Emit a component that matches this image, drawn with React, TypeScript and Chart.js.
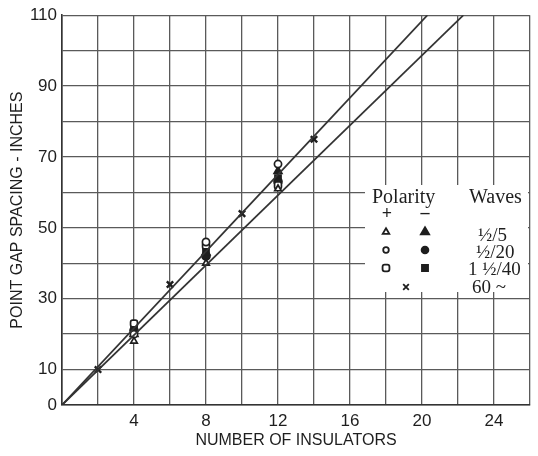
import React, { useEffect, useRef } from 'react';
import { Chart, registerables } from 'chart.js';
import { drawPoint } from 'chart.js/helpers';

Chart.register(...registerables);

// Measured groups (number of insulators)
const groupX = [4, 8, 12];
const openTriangleY = [18, 40, 61];   // + 1/2/5
const filledTriangleY = [20, 43, 66]; // - 1/2/5
const openCircleY = [20, 46, 68];     // + 1/2/20
const filledCircleY = [21, 42, 63];   // - 1/2/20
const openSquareY = [23, 45, 62];     // + 1 1/2/40
const filledSquareY = [22, 44, 64];   // - 1 1/2/40
const acX = [2, 6, 10, 14];
const acY = [10, 34, 54, 75];         // 60 ~

// Reference lines through origin
const upperLineX = [0, 20.3];
const upperLineY = [0, 110];
const lowerLineX = [0, 22.3];
const lowerLineY = [0, 110];

const yLabelTicks = [0, 10, 30, 50, 70, 90, 110];
const xLabelTicks = [4, 8, 12, 16, 20, 24];

const waveLabels = ['\u00BD/5', '\u00BD/20', '1 \u00BD/40', '60 ~'];

const INK = '#1e1e1e';
const GRID = '#5a5a5a';

const pts = (xs: number[], ys: number[]) => xs.map((x, i) => ({ x, y: ys[i] }));

const legendPlugin = {
  id: 'customLegend',
  afterDraw(chart: any) {
    const ctx = chart.ctx;
    ctx.save();
    ctx.fillStyle = '#fff';
    ctx.fillRect(365, 185, 163, 107);
    ctx.fillStyle = INK;
    ctx.textBaseline = 'alphabetic';
    ctx.textAlign = 'left';
    ctx.font = '20px "Liberation Serif", serif';
    ctx.fillText('Polarity', 372, 203);
    ctx.fillText('Waves', 469, 203);
    ctx.font = 'bold 18px "Liberation Serif", serif';
    ctx.textAlign = 'center';
    ctx.textBaseline = 'middle';
    ctx.fillText('+', 387, 214);
    ctx.fillText('\u2013', 425, 213);
    const sym = (style: string, x: number, y: number, filled: boolean, r: number) => {
      ctx.fillStyle = filled ? INK : '#fff';
      ctx.strokeStyle = INK;
      ctx.lineWidth = 1.8;
      drawPoint(ctx, { pointStyle: style as any, radius: r, rotation: 0, borderWidth: 1.8 }, x, y);
    };
    sym('triangle', 386, 232, false, 3.8);
    sym('triangle', 425, 232, true, 4.8);
    sym('circle', 386, 250, false, 2.8);
    sym('circle', 425, 250, true, 3.4);
    sym('rectRounded', 386, 268, false, 4);
    sym('rect', 425, 268, true, 4.3);
    sym('crossRot', 406, 287, false, 4);
    ctx.fillStyle = INK;
    ctx.textAlign = 'left';
    ctx.textBaseline = 'middle';
    ctx.font = '19px "Liberation Serif", serif';
    ctx.fillText(waveLabels[0], 478, 236);
    ctx.fillText(waveLabels[1], 476, 253);
    ctx.fillText(waveLabels[2], 468, 270);
    ctx.fillText(waveLabels[3], 472, 288);
    ctx.restore();
  },
};

export default function App() {
  const ref = useRef<HTMLCanvasElement>(null);
  useEffect(() => {
    if (!ref.current) return;
    const marker = (label: string, xs: number[], ys: number[], style: string, filled: boolean, r: number, bw = 1.7) => ({
      type: 'scatter' as const,
      label,
      data: pts(xs, ys),
      pointStyle: style,
      pointRadius: r,
      pointBackgroundColor: filled ? INK : '#fff',
      pointBorderColor: INK,
      pointBorderWidth: bw,
      showLine: false,
    });
    const line = (xs: number[], ys: number[]) => ({
      type: 'line' as const,
      data: pts(xs, ys),
      borderColor: '#333',
      borderWidth: 1.8,
      pointRadius: 0,
      fill: false,
    });
    const chart = new Chart(ref.current, {
      type: 'scatter',
      data: {
        datasets: [
          line(upperLineX, upperLineY),
          line(lowerLineX, lowerLineY),
          marker('+ 1/2/5', groupX, openTriangleY, 'triangle', false, 3.8),
          marker('+ 1/2/20', groupX, openCircleY, 'circle', false, 3.6),
          marker('+ 1 1/2/40', groupX, openSquareY, 'rectRounded', false, 4),
          marker('- 1/2/5', groupX, filledTriangleY, 'triangle', true, 4.5),
          marker('- 1/2/20', groupX, filledCircleY, 'circle', true, 4),
          marker('- 1 1/2/40', groupX, filledSquareY, 'rect', true, 4.3),
          marker('60 ~', acX, acY, 'crossRot', false, 4.5, 2.4),
        ] as any,
      },
      options: {
        responsive: false,
        animation: false,
        layout: { padding: { top: 15, right: 8, left: 0, bottom: 0 } },
        plugins: { legend: { display: false }, tooltip: { enabled: false } },
        scales: {
          x: {
            type: 'linear',
            min: 0,
            max: 26,
            afterFit: (s: any) => { s.height = 51; },
            ticks: {
              stepSize: 2,
              autoSkip: false,
              maxRotation: 0,
              padding: 6,
              color: INK,
              font: { family: '"Liberation Sans", sans-serif', size: 17 },
              callback: (v: any) => (xLabelTicks.includes(Number(v)) ? String(v) : ''),
            },
            grid: { color: GRID, lineWidth: 1.3, drawTicks: false },
            border: { color: '#333', width: 1.6 },
            title: {
              display: true,
              text: 'NUMBER OF INSULATORS',
              color: INK,
              font: { family: '"Liberation Sans", sans-serif', size: 16 },
              padding: { top: 0, bottom: 6 },
            },
          },
          y: {
            type: 'linear',
            min: 0,
            max: 110,
            afterFit: (s: any) => { s.width = 62; },
            ticks: {
              stepSize: 10,
              autoSkip: false,
              padding: 5,
              color: INK,
              font: { family: '"Liberation Sans", sans-serif', size: 17 },
              callback: (v: any) => (yLabelTicks.includes(Number(v)) ? String(v) : ''),
            },
            grid: { color: GRID, lineWidth: 1.3, drawTicks: false },
            border: { color: '#333', width: 1.6 },
            title: {
              display: true,
              text: 'POINT GAP SPACING - INCHES',
              color: INK,
              font: { family: '"Liberation Sans", sans-serif', size: 16 },
              padding: { top: 8, bottom: 0 },
            },
          },
        },
      },
      plugins: [legendPlugin],
    });
    return () => chart.destroy();
  }, []);
  return (
    <div style={{ position: 'absolute', left: 0, top: 0, width: 538, height: 456, background: '#fff' }}>
      <canvas ref={ref} width={538} height={456} style={{ display: 'block' }} />
    </div>
  );
}
